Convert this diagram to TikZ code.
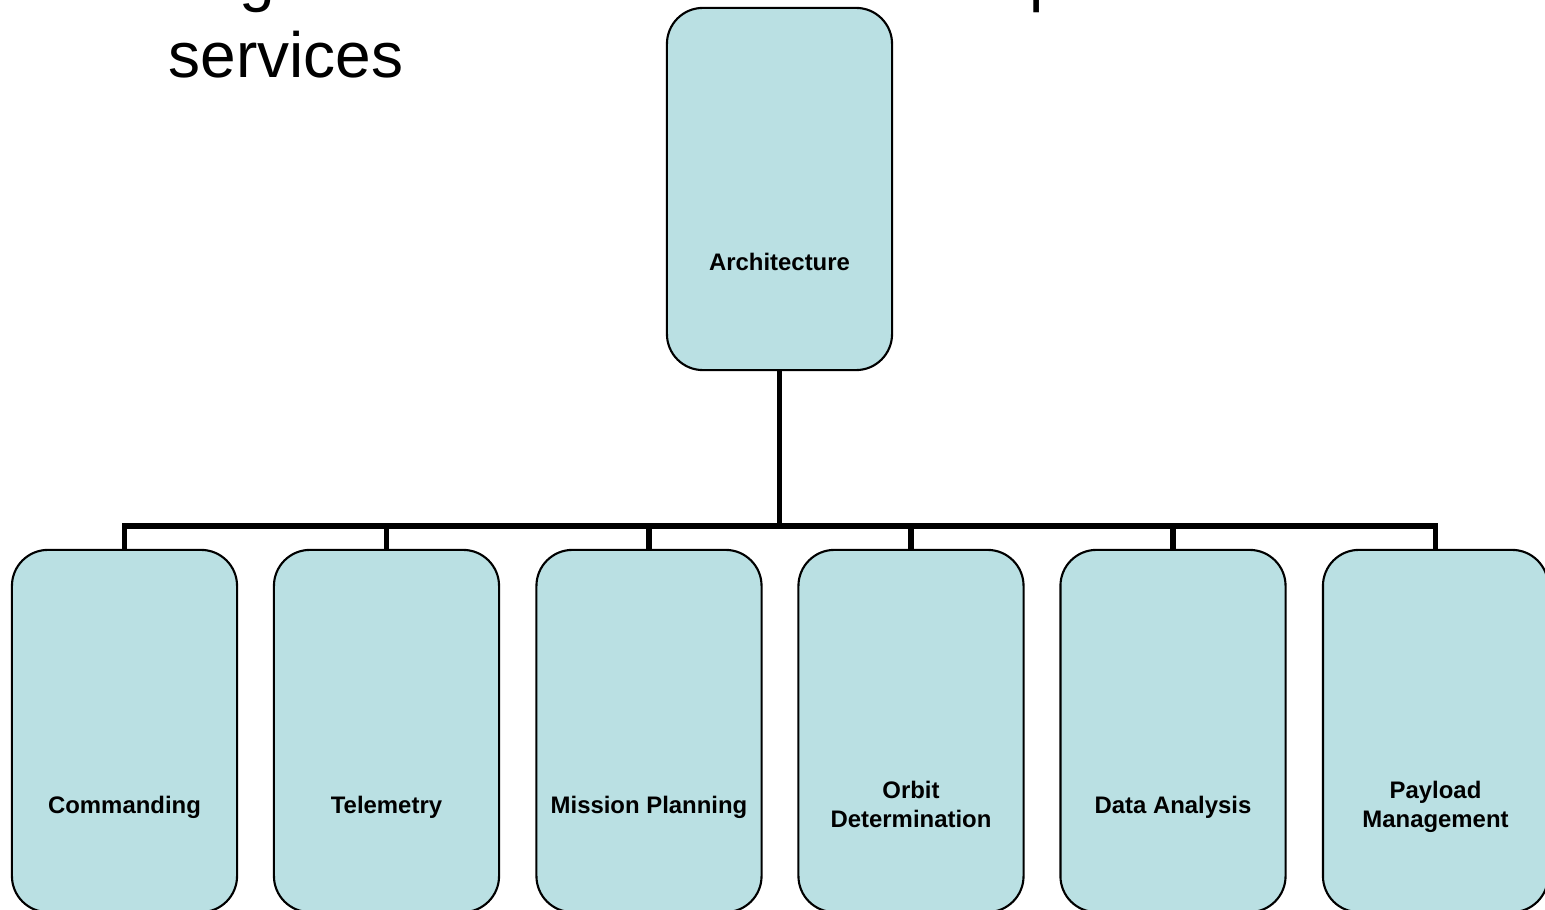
\documentclass[tikz,border=0pt]{standalone}
\usepackage{fontspec}
\setmainfont{Liberation Sans}
\definecolor{boxfill}{RGB}{186,224,227}
\begin{document}
\begin{tikzpicture}[x=0.01cm,y=-0.01cm,
  orgbox/.style={draw=black, line width=0.6pt, fill=boxfill, rounded corners=0.36cm,
    minimum width=2.25cm, inner sep=0pt},
  lbl/.style={font=\fontsize{6.8}{8.25}\selectfont\bfseries, align=center, inner sep=0pt, text depth=0pt},
  conn/.style={draw=black, line width=1.45pt}]
\useasboundingbox (0,0) rectangle (1545,910);
\clip (0,0) rectangle (1545,910);
\node[anchor=base west, align=left, inner sep=0pt, font=\fontsize{18.2}{22.2}\selectfont] (title) at (168,78)
  {Organize software around the products/\\services};
% boxes
\node[orgbox, minimum height=3.62cm] (arch) at (779.5,189) {};
\node[orgbox, minimum height=3.62cm] (b1) at (124.5,731) {};
\node[orgbox, minimum height=3.62cm] (b2) at (386.5,731) {};
\node[orgbox, minimum height=3.62cm] (b3) at (649,731) {};
\node[orgbox, minimum height=3.62cm] (b4) at (911,731) {};
\node[orgbox, minimum height=3.62cm] (b5) at (1173,731) {};
\node[orgbox, minimum height=3.62cm] (b6) at (1435.5,731) {};
% labels
\node[lbl] (larch) at ([yshift=-0.73cm]arch.center) {Architecture};
\node[lbl] (l1) at ([yshift=-0.735cm]b1.center) {Commanding};
\node[lbl] (l2) at ([yshift=-0.735cm]b2.center) {Telemetry};
\node[lbl] (l3) at ([yshift=-0.735cm]b3.center) {Mission Planning};
\node[lbl] (l4) at ([yshift=-0.735cm]b4.center) {Orbit\\Determination};
\node[lbl] (l5) at ([yshift=-0.735cm]b5.center) {Data Analysis};
\node[lbl] (l6) at ([yshift=-0.735cm]b6.center) {Payload\\Management};
% connectors
\coordinate (bus) at (779.5,526);
\draw[conn, line join=miter] (b1.north) -- (b1.north |- bus) -- (b6.north |- bus) -- (b6.north);
\draw[conn] (arch.south) -- (arch.south |- bus);
\draw[conn] (b2.north) -- (b2.north |- bus);
\draw[conn] (b3.north) -- (b3.north |- bus);
\draw[conn] (b4.north) -- (b4.north |- bus);
\draw[conn] (b5.north) -- (b5.north |- bus);
\end{tikzpicture}
\end{document}
